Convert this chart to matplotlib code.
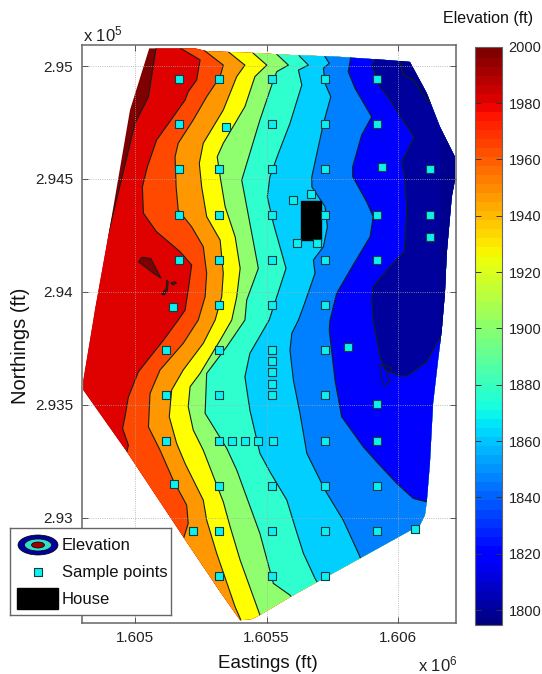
import matplotlib
matplotlib.use('Agg')
import numpy as np
import matplotlib.pyplot as plt
from matplotlib.patches import Polygon, Ellipse, Rectangle
from matplotlib.cm import ScalarMappable
from matplotlib.colors import Normalize

plt.rcParams['font.family'] = ['Liberation Sans', 'DejaVu Sans']
plt.rcParams['mathtext.default'] = 'regular'

#-------------------------------------------------------------#
# Site outline (ft)
#-------------------------------------------------------------#
site_e = [1605055,1605229,1605273,1605449,1605589,1605771,1605950,1606044,1606108,1606158,1606215,1606215,
          1606203,1606184,1606177,1606165,1606151,1606132,1606120,1606108,1606101,1606082,1605596,1605475,
          1605444,1605400,1605381,1605324,1605187,1604970,1604805,1604805,1604843,1604849,1604906,1604982]
site_n = [295078,295078,295066,295058,295049,295041,295027,295018,294880,294731,294598,294495,
          294421,294172,293995,293831,293698,293507,293242,293070,293011,292967,292653,292569,
          292551,292546,292577,292672,292910,293292,293565,293609,293875,293919,294288,294805]

#-------------------------------------------------------------#
# Contour lines, west to east, each traced north to south (ft)
#-------------------------------------------------------------#
c1_e = [1605085,1605081,1605052,1605001,1604906,1604849,1604700]
c1_n = [295115,295080,294864,294746,294288,294008,293900]

c2_e = [1605164,1605172,1605248,1605235,1605203,1605191,1605146,1605083,1605048,1605029,1605033,1605083,1605172,
        1605216,1605203,1605191,1605165,1605109,1605014,1604976,1604963,1604954,1604976,1604970,1604925]
c2_n = [295115,295080,295027,294938,294886,294849,294775,294672,294554,294465,294348,294266,294178,
        294119,294008,293919,293875,293786,293646,293535,293447,293395,293321,293292,293211]

c3_e = [1605229,1605267,1605336,1605324,1605273,1605222,1605165,1605153,1605157,1605165,1605216,1605260,1605273,
        1605267,1605241,1605184,1605096,1605058,1605052,1605096,1605146,1605197,1605203,1605187,1605164]
c3_n = [295115,295066,295004,294953,294864,294761,294658,294598,294465,294362,294288,294200,294082,
        293978,293875,293772,293654,293550,293402,293299,293166,293056,292975,292915,292856]

c4_e = [1605316,1605355,1605418,1605387,1605336,1605260,1605245,1605254,1605273,1605324,1605336,1605330,1605305,
        1605260,1605184,1605140,1605131,1605159,1605191,1605260,1605273,1605311,1605381,1605400,1605415]
c4_n = [295115,295063,295004,294953,294805,294658,294569,294465,294333,294229,294082,293978,293875,
        293772,293654,293565,293447,293329,293240,293078,292989,292842,292605,292554,292502]

c5_e = [1605411,1605450,1605501,1605456,1605418,1605336,1605313,1605324,1605343,1605381,1605400,1605387,1605368,
        1605324,1605248,1605210,1605203,1605222,1605260,1605336,1605362,1605400,1605475,1605494]
c5_n = [295115,295056,295004,294953,294820,294658,294598,294510,294377,294244,294104,293978,293875,
        293786,293639,293580,293491,293388,293299,293070,292960,292812,292569,292502]

c6_e = [1605506,1605539,1605583,1605539,1605520,1605475,1605406,1605425,1605469,1605425,1605418,
        1605349,1605273,1605267,1605349,1605387,1605475,1605526,1605589,1605616]
c6_n = [295115,295052,295004,294975,294916,294761,294495,294377,294104,293964,293875,
        293757,293639,293462,293307,293211,292930,292709,292657,292613]

c7_e = [1605589,1605627,1605659,1605621,1605634,1605589,1605545,1605513,1605503,1605526,1605574,1605545,
        1605510,1605437,1605418,1605437,1605475,1605513,1605577,1605612,1605640,1605684,1605711]
c7_n = [295115,295041,295004,294982,294916,294746,294613,294510,294421,294303,294104,294000,
        293875,293728,293624,293476,293285,293203,293078,292945,292842,292731,292679]

c8_e = [1605695,1605722,1605738,1605716,1605722,1605744,1605716,1605672,1605672,1605722,1605731,1605716,1605678,
        1605684,1605640,1605621,1605596,1605589,1605602,1605627,1605653,1605722,1605791,1605852,1605866]
c8_n = [295115,295041,295012,294990,294923,294864,294746,294510,294465,294377,294288,294200,294141,
        294082,293934,293875,293816,293742,293609,293462,293285,293122,292989,292834,292790]

c9_e = [1605824,1605817,1605810,1605836,1605899,1605861,1605827,1605827,1605880,1605905,1605893,1605817,1605766,
        1605741,1605738,1605760,1605785,1605867,1605918,1605994,1606057,1606108,1606158]
c9_n = [295115,295019,294975,294901,294775,294694,294554,294510,294399,294333,294244,294096,293993,
        293875,293831,293609,293447,293314,293247,293152,293085,293070,293065]

c10_e = [1605923,1605912,1605899,1605931,1605969,1606060,1606013,1606026,1606032,1606023,1605956,1605905,
         1605899,1605905,1605931,1605950,1606007,1606032,1606108,1606146,1606177,1606234]
c10_n = [295115,295027,295004,294908,294849,294684,294576,294495,294362,294178,294096,294023,
         293964,293875,293713,293654,293628,293627,293690,293772,293831,293875]

c11_e = [1605999,1606007,1606019,1606057,1606114,1606158]
c11_n = [295071,295016,294960,294938,294842,294805]

contours = [(c1_e,c1_n),(c2_e,c2_n),(c3_e,c3_n),(c4_e,c4_n),(c5_e,c5_n),(c6_e,c6_n),
            (c7_e,c7_n),(c8_e,c8_n),(c9_e,c9_n),(c10_e,c10_n),(c11_e,c11_n)]

# Small closed patches of high ground and the wiggle by the low ground
island_a_e = [1605014,1605027,1605061,1605100,1605071]
island_a_n = [294133,294153,294148,294060,294082]
island_b_e = [1605102,1605119,1605121,1605127,1605124,1605111]
island_b_n = [293990,294015,294052,294045,294005,293986]
island_c_e = [1605137,1605153,1605159,1605144]
island_c_n = [294040,294045,294038,294030]
wiggle_e = [1605931,1605950,1605975,1605957,1605969,1605946,1605938,1605933,1605931]
wiggle_n = [293676,293676,293662,293631,293605,293583,293609,293645,293676]

#-------------------------------------------------------------#
# Sample points and house (ft)
#-------------------------------------------------------------#
sample_e = [1605168,1605319,1605521,1605722,1605919,
            1605168,1605345,1605521,1605722,1605919,
            1605168,1605319,1605521,1605722,1605939,1606122,
            1605168,1605319,1605521,1605722,1605919,1606122,
            1605601,1605668,1605615,1605692,1606122,
            1605168,1605319,1605521,1605722,1605919,
            1605146,1605319,1605521,1605722,
            1605118,1605319,1605521,1605722,1605809,
            1605521,1605521,1605521,
            1605118,1605319,1605521,1605722,1605919,
            1605118,1605319,1605368,1605420,1605468,1605526,1605722,1605919,
            1605150,1605319,1605521,1605722,1605919,
            1605221,1605319,1605521,1605722,1605919,1606063,
            1605319,1605521,1605722]
sample_n = [294941,294941,294941,294941,294941,
            294742,294729,294742,294742,294742,
            294544,294544,294544,294544,294554,294544,
            294340,294340,294340,294340,294340,294340,
            294407,294432,294217,294217,294241,
            294141,294141,294141,294141,294141,
            293931,293941,293941,293941,
            293742,293742,293742,293742,293757,
            293693,293643,293593,
            293542,293542,293542,293542,293502,
            293339,293339,293339,293339,293339,293339,293339,293339,
            293150,293141,293141,293141,293141,
            292942,292942,292942,292942,292942,292948,
            292740,292740,292740]
house_e = [1605630,1605706]
house_n = [294229,294402]

x_ticks = [1605000,1605500,1606000]
x_labels = ['1.605','1.6055','1.606']
y_ticks = [293000,293500,294000,294500,295000]
y_labels = ['2.93','2.935','2.94','2.945','2.95']
cbar_ticks = [1800,1820,1840,1860,1880,1900,1920,1940,1960,1980,2000]

band_colors = ['#df0000','#ff4800','#ff9800','#ffff00','#8fff6f','#2fffcf',
               '#00cfff','#0080ff','#0000ff','#00009c','#00008f']
top_color = '#7f0000'
line_color = '#10201a'

#-------------------------------------------------------------#
# Map axes
#-------------------------------------------------------------#
W, H = 542, 674
fig = plt.figure(figsize=(W/100.0, H/100.0), dpi=100)
ax = fig.add_axes([81.5/W, 1-622.7/H, (456-81.5)/W, (622.7-45)/H])
xmin, xmax = 1604798, 1606219
ymin, ymax = 292535, 295093
far_s, far_e, far_n = 292000, 1606500, 295500

site = Polygon(np.column_stack([site_e, site_n]), closed=True, facecolor=top_color, edgecolor='none', zorder=1)
ax.add_patch(site)

# Each band is everything east of its contour, the later ones paint over
for (ce, cn), col in zip(contours, band_colors):
    px = list(ce) + [ce[-1], far_e, far_e, ce[0]]
    py = list(cn) + [far_s, far_s, far_n, far_n]
    band = ax.fill(px, py, color=col, linewidth=0, zorder=1.1)[0]
    band.set_clip_path(site)
    line, = ax.plot(ce, cn, color=line_color, lw=0.8, zorder=1.2)
    line.set_clip_path(site)

for ie, inn in [(island_a_e,island_a_n),(island_b_e,island_b_n),(island_c_e,island_c_n)]:
    ax.fill(ie, inn, facecolor=top_color, edgecolor=line_color, linewidth=0.7, zorder=1.3)
ax.plot(wiggle_e, wiggle_n, color=line_color, lw=0.8, zorder=1.3)

ax.add_patch(Rectangle((house_e[0], house_n[0]), house_e[1]-house_e[0], house_n[1]-house_n[0],
                       facecolor='k', edgecolor='k', zorder=4))
ax.scatter(sample_e, sample_n, marker='s', s=30, facecolor='#0cf0f0', edgecolor='#123c44', linewidth=0.8, zorder=5)

ax.set_xlim(xmin, xmax)
ax.set_ylim(ymin, ymax)
ax.set_xticks(x_ticks)
ax.set_xticklabels(x_labels)
ax.set_yticks(y_ticks)
ax.set_yticklabels(y_labels)
ax.tick_params(direction='in', length=4, width=0.7, color='#555555', top=True, right=True, labelsize=11, pad=6, labelcolor='#222222')
ax.grid(True, linestyle=':', color='#aaaaaa', linewidth=0.6)
ax.set_axisbelow(False)
for s in ax.spines.values():
    s.set_color('#666666')
    s.set_linewidth(1.1)

fig.text(21/W, 1-346/H, 'Northings (ft)', rotation=90, fontsize=14.5, ha='center', va='center', color='#111111')
fig.text(268/W, 1-664/H, 'Eastings (ft)', fontsize=13.5, ha='center', va='center', color='#111111')
fig.text(83/W, 1-41/H, r'x 10$^{5}$', fontsize=12, ha='left', va='baseline', color='#222222')
fig.text(418/W, 1-671.5/H, r'x 10$^{6}$', fontsize=12, ha='left', va='baseline', color='#222222')
fig.text(488/W, 1-18/H, 'Elevation (ft)', fontsize=11.5, ha='center', va='center', color='#111111')

#-------------------------------------------------------------#
# Colour bar
#-------------------------------------------------------------#
cax = fig.add_axes([475/W, 1-625/H, (501.7-475)/W, (625-46.7)/H])
sm = ScalarMappable(norm=Normalize(1794.7, 2000), cmap=plt.get_cmap('jet', 64))
cb = fig.colorbar(sm, cax=cax, ticks=cbar_ticks)
cb.solids.set_edgecolor('face')
cb.outline.set_edgecolor('#666666')
cb.outline.set_linewidth(0.8)
cax.tick_params(direction='in', length=4, width=0.7, color='#333333', left=True, right=True, labelsize=10.5, pad=5, labelcolor='#222222')

#-------------------------------------------------------------#
# Legend, drawn by hand in pixel space because it hangs off the axes
#-------------------------------------------------------------#
lax = fig.add_axes([10/W, 1-615/H, 161/W, 87/H], zorder=10)
lax.set_xlim(10, 171)
lax.set_ylim(615, 528)
lax.set_xticks([])
lax.set_yticks([])
for s in lax.spines.values():
    s.set_color('#666666')
    s.set_linewidth(1.0)
lax.add_patch(Ellipse((38, 545), 40, 20, facecolor='#00009c', edgecolor='k', linewidth=0.5))
lax.add_patch(Ellipse((38, 545), 27, 12, facecolor='#2fe0cf', edgecolor='k', linewidth=0.5))
lax.add_patch(Ellipse((38, 545), 13, 6, facecolor='#a00000', edgecolor='k', linewidth=0.5))
lax.scatter([38], [572], marker='s', s=30, facecolor='#0cf0f0', edgecolor='#123c44', linewidth=0.8)
lax.add_patch(Rectangle((17, 588), 41, 21, facecolor='k', edgecolor='k'))
lax.text(62, 545, 'Elevation', fontsize=12, va='center', color='#111111')
lax.text(62, 572, 'Sample points', fontsize=12, va='center', color='#111111')
lax.text(62, 600, 'House', fontsize=12, va='center', color='#111111')

fig.savefig('out.png', dpi=100)
